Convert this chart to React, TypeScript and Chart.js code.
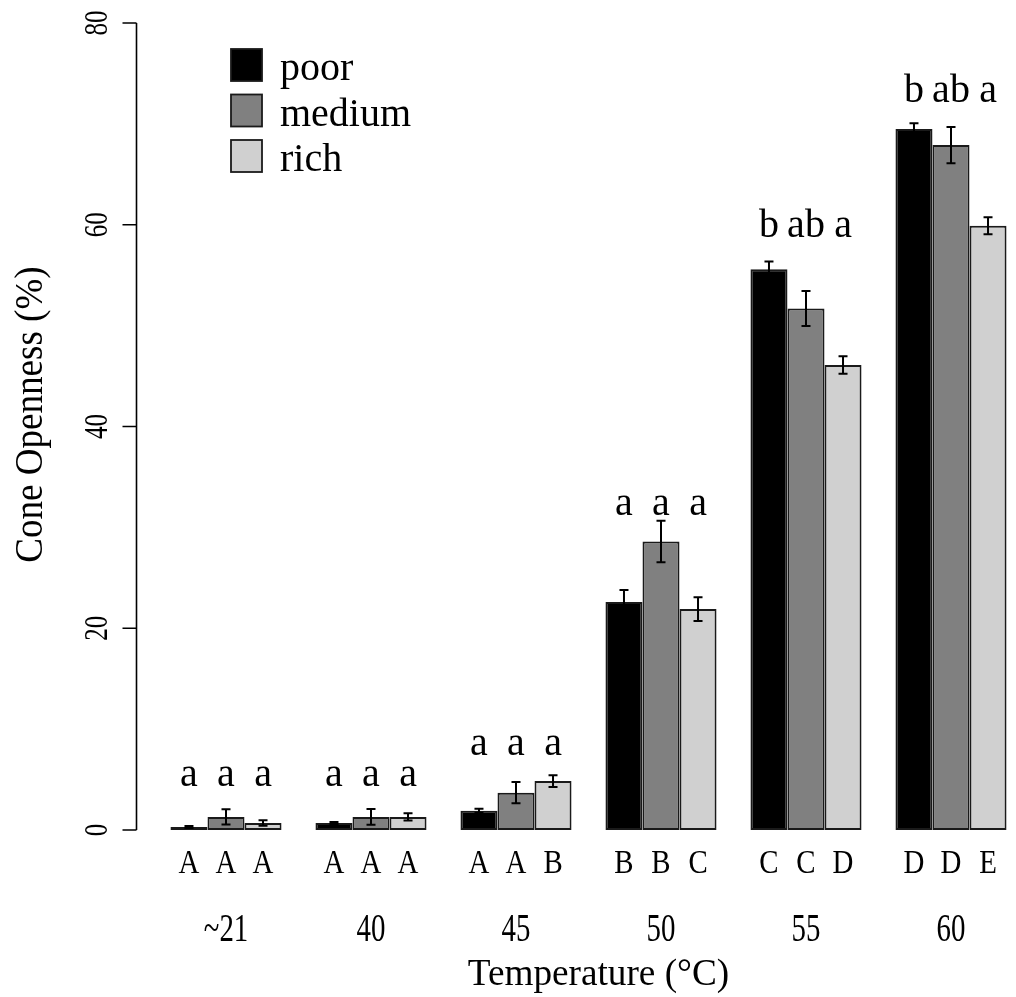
import React, { useEffect, useRef } from 'react';
import { Chart, registerables } from 'chart.js';

Chart.register(...registerables);

// ---------- data ----------
const temperatures = ['~21', '40', '45', '50', '55', '60'];
const seriesNames = ['poor', 'medium', 'rich'];

const poorMean = [0.3, 0.7, 1.9, 22.6, 55.6, 69.5];
const poorSE = [0.1, 0.1, 0.2, 1.2, 0.75, 0.55];
const mediumMean = [1.3, 1.3, 3.7, 28.6, 51.7, 67.9];
const mediumSE = [0.75, 0.78, 1.05, 2.05, 1.73, 1.8];
const richMean = [0.7, 1.3, 4.85, 21.9, 46.1, 59.9];
const richSE = [0.27, 0.37, 0.58, 1.17, 0.86, 0.84];

// significance letters above bars (within temperature)
const poorSig = ['a', 'a', 'a', 'a', 'b', 'b'];
const mediumSig = ['a', 'a', 'a', 'a', 'ab', 'ab'];
const richSig = ['a', 'a', 'a', 'a', 'a', 'a'];
const sigLetterY = [4.36, 4.36, 7.43, 31.2, 58.8, 72.2];

// group letters below bars (across temperature)
const poorGroup = ['A', 'A', 'A', 'B', 'C', 'D'];
const mediumGroup = ['A', 'A', 'A', 'B', 'C', 'D'];
const richGroup = ['A', 'A', 'B', 'C', 'D', 'E'];

const yTicks = [0, 20, 40, 60, 80];

const yTitle = 'Cone Openness (%)';
const xTitle = 'Temperature (°C)';

// ---------- styling ----------
const FONT = '"Liberation Serif", "Times New Roman", Times, serif';
const fills = ['#000000', '#808080', '#d0d0d0'];

function drawText(
  ctx: CanvasRenderingContext2D,
  text: string,
  x: number,
  y: number,
  size: number,
  sx = 1,
  align: CanvasTextAlign = 'center',
  rot = 0,
  weight = 'normal'
) {
  ctx.save();
  ctx.translate(x, y);
  if (rot) ctx.rotate(rot);
  ctx.scale(sx, 1);
  ctx.font = `${weight} ${size}px ${FONT}`;
  ctx.textAlign = align;
  ctx.textBaseline = 'alphabetic';
  ctx.fillStyle = '#000';
  ctx.fillText(text, 0, 0);
  ctx.restore();
}

const decorPlugin = {
  id: 'decor',
  afterDatasetsDraw(chart: any) {
    const ctx: CanvasRenderingContext2D = chart.ctx;
    const area = chart.chartArea;
    const ys = chart.scales.y;
    const xs = chart.scales.x;
    const ses = [poorSE, mediumSE, richSE];
    const means = [poorMean, mediumMean, richMean];
    const sigs = [poorSig, mediumSig, richSig];
    const groups = [poorGroup, mediumGroup, richGroup];

    // y axis
    const axX = area.left - 17;
    ctx.save();
    ctx.strokeStyle = '#000';
    ctx.lineWidth = 1.6;
    ctx.beginPath();
    ctx.moveTo(axX, ys.getPixelForValue(yTicks[0]));
    ctx.lineTo(axX, ys.getPixelForValue(yTicks[yTicks.length - 1]));
    yTicks.forEach((t) => {
      const py = ys.getPixelForValue(t);
      ctx.moveTo(axX - 14, py);
      ctx.lineTo(axX, py);
    });
    ctx.stroke();
    ctx.restore();
    yTicks.forEach((t) => {
      const py = ys.getPixelForValue(t);
      drawText(ctx, String(t), axX - 30, py, 34, 0.74, 'center', -Math.PI / 2);
    });
    drawText(ctx, yTitle, 42, (area.top + area.bottom) / 2 - 12, 39, 0.95, 'center', -Math.PI / 2);

    // error bars, letters
    for (let d = 0; d < 3; d++) {
      const meta = chart.getDatasetMeta(d);
      meta.data.forEach((el: any, i: number) => {
        const m = means[d][i];
        const s = ses[d][i];
        const yTop = ys.getPixelForValue(m + s);
        const yBot = ys.getPixelForValue(Math.max(0, m - s));
        ctx.save();
        ctx.strokeStyle = '#000';
        ctx.lineWidth = 2;
        ctx.beginPath();
        ctx.moveTo(el.x, yTop);
        ctx.lineTo(el.x, yBot);
        ctx.moveTo(el.x - 4.5, yTop);
        ctx.lineTo(el.x + 4.5, yTop);
        ctx.moveTo(el.x - 4.5, yBot);
        ctx.lineTo(el.x + 4.5, yBot);
        ctx.stroke();
        ctx.restore();

        drawText(ctx, sigs[d][i], el.x, ys.getPixelForValue(sigLetterY[i]), 40, 1);
        drawText(ctx, groups[d][i], el.x, area.bottom + 43, 34, 0.85);
      });
    }

    // category labels
    temperatures.forEach((t, i) => {
      drawText(ctx, t, xs.getPixelForValue(i), area.bottom + 111, 39, 0.74);
    });
    drawText(ctx, xTitle, (area.left + area.right) / 2 + 10, area.bottom + 155, 38, 0.98);

    // legend
    const lx = area.left + 77.5;
    const ly = area.top + 26;
    chart.data.datasets.forEach((ds: any, k: number) => {
      const by = ly + k * 45.5;
      ctx.save();
      ctx.fillStyle = ds.backgroundColor;
      ctx.fillRect(lx, by, 31, 32);
      ctx.strokeStyle = '#1a1a1a';
      ctx.lineWidth = 1.8;
      ctx.strokeRect(lx, by, 31, 32);
      ctx.restore();
      drawText(ctx, ds.label, lx + 49, by + 31, 40, 1, 'left');
    });
  },
};

export default function App() {
  const ref = useRef<HTMLCanvasElement>(null);

  useEffect(() => {
    if (!ref.current) return;
    const allMeans = [poorMean, mediumMean, richMean];
    const chart = new Chart(ref.current, {
      type: 'bar',
      data: {
        labels: temperatures,
        datasets: seriesNames.map((name, k) => ({
          label: name,
          data: allMeans[k],
          backgroundColor: fills[k],
          borderColor: '#1a1a1a',
          borderWidth: 2,
          borderSkipped: false,
          barPercentage: 1,
          categoryPercentage: 0.766,
        })),
      },
      options: {
        responsive: false,
        animation: false,
        devicePixelRatio: 1,
        layout: { padding: { left: 153.5, right: 16.5, top: 23, bottom: 167 } },
        plugins: {
          legend: { display: false },
          tooltip: { enabled: false },
        },
        scales: {
          x: { type: 'category', display: false, offset: true, grid: { display: false } },
          y: { min: 0, max: 80, display: false, ticks: { stepSize: 20 } },
        },
      },
      plugins: [decorPlugin],
    });
    return () => chart.destroy();
  }, []);

  return (
    <div
      style={{
        position: 'fixed',
        left: 0,
        top: 0,
        width: 1016,
        height: 997,
        overflow: 'hidden',
        background: '#fff',
      }}
    >
      <canvas ref={ref} width={1040} height={997} style={{ display: 'block', width: 1040, height: 997 }} />
    </div>
  );
}
